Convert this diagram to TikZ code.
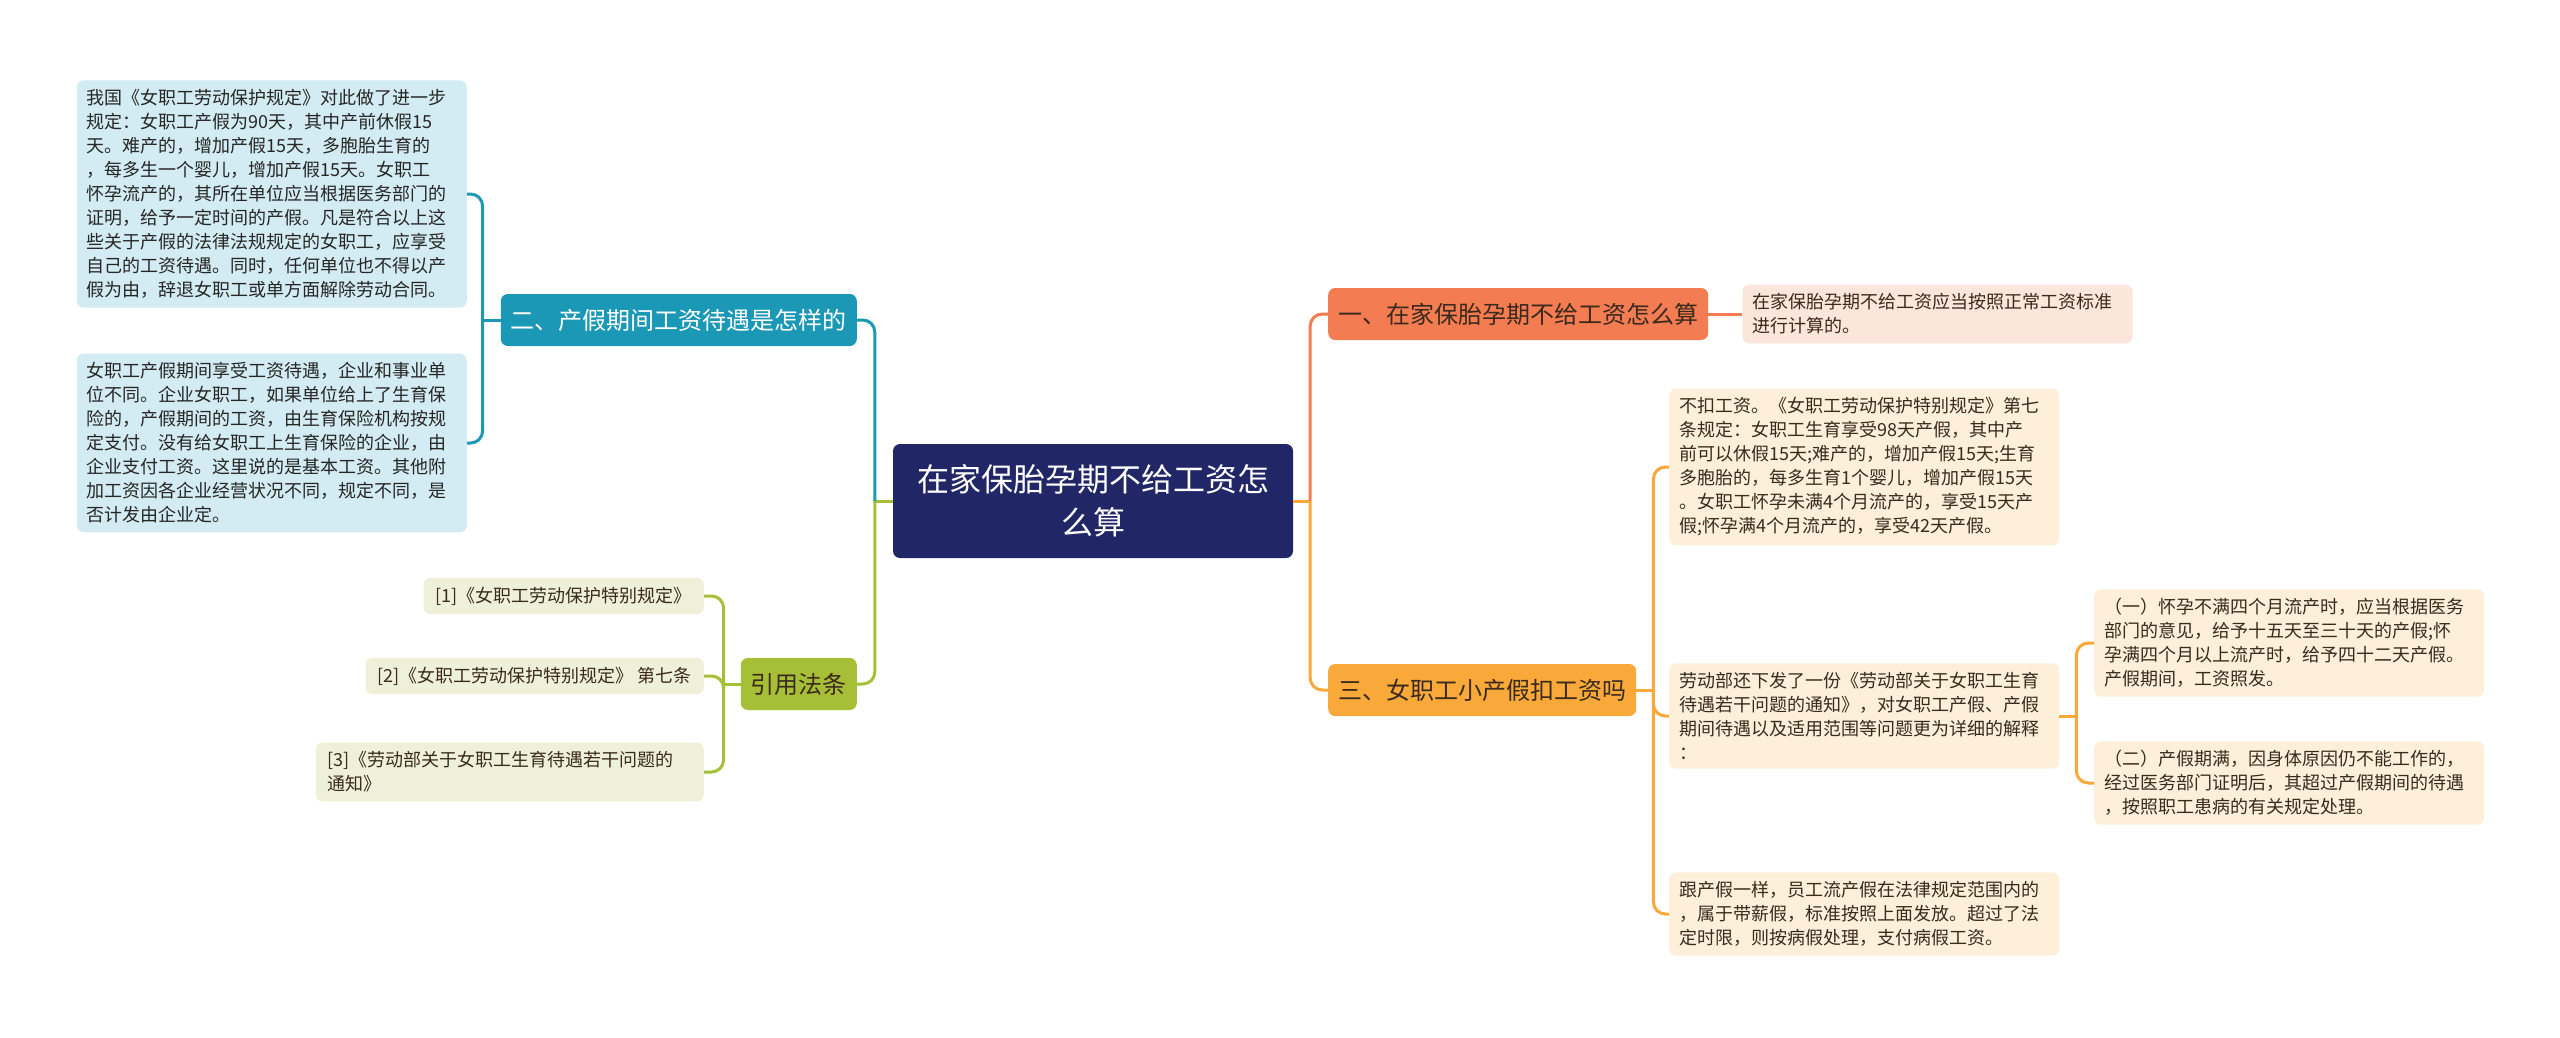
\documentclass[tikz,border=0pt]{standalone}
\usepackage{fontspec}
\setmainfont{Noto Sans CJK SC}
\usepackage{tikz}
\usetikzlibrary{positioning,calc}

\definecolor{rootblue}{HTML}{212766}
\definecolor{coralbr}{HTML}{F47C53}
\definecolor{coralleaf}{HTML}{FCE5DB}
\definecolor{amberbr}{HTML}{F8A93A}
\definecolor{amberleaf}{HTML}{FDEFDA}
\definecolor{tealbr}{HTML}{1B98B5}
\definecolor{tealleaf}{HTML}{D3EBF2}
\definecolor{olivebr}{HTML}{A7BF36}
\definecolor{oliveleaf}{HTML}{EEF1D7}
\definecolor{darktext}{HTML}{3A2A1C}

\begin{document}
\begin{tikzpicture}[x=1pt,y=-1pt,
root/.style={fill=rootblue,text=white,rounded corners=7pt,align=center,font=\fontsize{32}{43}\selectfont,minimum width=400pt,minimum height=114pt},
branch/.style={rounded corners=7pt,font=\fontsize{24}{30}\selectfont,inner xsep=10pt,minimum height=52pt,text=darktext},
leaf/.style={rounded corners=7pt,font=\fontsize{18}{24}\selectfont,inner xsep=10pt,inner ysep=9pt,align=left,text=darktext},
wideleaf/.style={leaf,text width=370pt},
refleaf/.style={leaf,fill=oliveleaf,inner xsep=12pt,anchor=east},
conn/.style={line width=3pt,rounded corners=12pt}]
\path[fill=white,use as bounding box] (0,0) rectangle (2560,1038);

\node[root] (root) at (1093,501) {在家保胎孕期不给工资怎\\么算};

% right side
\node[branch,fill=coralbr,anchor=west] (b1) at (1328,314) {一、在家保胎孕期不给工资怎么算};
\node[wideleaf,fill=coralleaf,right=34pt of b1] (b1l) {在家保胎孕期不给工资应当按照正常工资标准\\进行计算的。};
\node[branch,fill=amberbr,anchor=west] (b3) at (1328,690) {三、女职工小产假扣工资吗};
\node[wideleaf,fill=amberleaf,anchor=west] (b3a) at (1669,467) {不扣工资。《女职工劳动保护特别规定》第七\\条规定：女职工生育享受98天产假，其中产\\前可以休假15天;难产的，增加产假15天;生育\\多胞胎的，每多生育1个婴儿，增加产假15天\\。女职工怀孕未满4个月流产的，享受15天产\\假;怀孕满4个月流产的，享受42天产假。};
\node[wideleaf,fill=amberleaf,anchor=west] (b3b) at (1669,716) {劳动部还下发了一份《劳动部关于女职工生育\\待遇若干问题的通知》，对女职工产假、产假\\期间待遇以及适用范围等问题更为详细的解释\\：};
\node[wideleaf,fill=amberleaf,anchor=west] (b3c) at (1669,914) {跟产假一样，员工流产假在法律规定范围内的\\，属于带薪假，标准按照上面发放。超过了法\\定时限，则按病假处理，支付病假工资。};
\node[wideleaf,fill=amberleaf,anchor=west] (b3b1) at (2094,643) {（一）怀孕不满四个月流产时，应当根据医务\\部门的意见，给予十五天至三十天的产假;怀\\孕满四个月以上流产时，给予四十二天产假。\\产假期间，工资照发。};
\node[wideleaf,fill=amberleaf,anchor=west] (b3b2) at (2094,783) {（二）产假期满，因身体原因仍不能工作的，\\经过医务部门证明后，其超过产假期间的待遇\\，按照职工患病的有关规定处理。};

% left side
\node[branch,fill=tealbr,text=white,anchor=east] (b2) at (857,320) {二、产假期间工资待遇是怎样的};
\node[wideleaf,fill=tealleaf,text=black!85,anchor=east] (b2a) at (467,194) {我国《女职工劳动保护规定》对此做了进一步\\规定：女职工产假为90天，其中产前休假15\\天。难产的，增加产假15天，多胞胎生育的\\，每多生一个婴儿，增加产假15天。女职工\\怀孕流产的，其所在单位应当根据医务部门的\\证明，给予一定时间的产假。凡是符合以上这\\些关于产假的法律法规规定的女职工，应享受\\自己的工资待遇。同时，任何单位也不得以产\\假为由，辞退女职工或单方面解除劳动合同。};
\node[wideleaf,fill=tealleaf,text=black!85,anchor=east] (b2b) at (467,443) {女职工产假期间享受工资待遇，企业和事业单\\位不同。企业女职工，如果单位给上了生育保\\险的，产假期间的工资，由生育保险机构按规\\定支付。没有给女职工上生育保险的企业，由\\企业支付工资。这里说的是基本工资。其他附\\加工资因各企业经营状况不同，规定不同，是\\否计发由企业定。};
\node[branch,fill=olivebr,anchor=east] (b4) at (857,684) {引用法条};
\node[refleaf] (r1) at (704,596) {[1]《女职工劳动保护特别规定》};
\node[refleaf] (r2) at (704,676) {[2]《女职工劳动保护特别规定》 第七条};
\node[refleaf,text width=364pt] (r3) at (704,772) {[3]《劳动部关于女职工生育待遇若干问题的\\通知》};

% connectors right
\coordinate (rj) at ($(root.east)+(17,0)$);
\draw[conn,amberbr] (root.east) -- (rj);
\draw[conn,coralbr] (rj) |- (b1.west);
\draw[conn,amberbr] (rj) |- (b3.west);
\draw[conn,coralbr] (b1.east) -- (b1l.west);
\coordinate (j3) at ($(b3.east)+(17,0)$);
\draw[conn,amberbr] (b3.east) -- (j3);
\foreach \n in {b3a,b3b,b3c} \draw[conn,amberbr] (j3) |- (\n.west);
\coordinate (j3b) at ($(b3b.east)+(17,0)$);
\draw[conn,amberbr] (b3b.east) -- (j3b);
\foreach \n in {b3b1,b3b2} \draw[conn,amberbr] (j3b) |- (\n.west);

% connectors left
\coordinate (lj) at ($(root.west)+(-18,0)$);
\draw[conn,olivebr] (root.west) -- (lj);
\draw[conn,tealbr] (lj) |- (b2.east);
\draw[conn,olivebr] (lj) |- (b4.east);
\coordinate (j2) at ($(b2.west)+(-18,0)$);
\draw[conn,tealbr] (b2.west) -- (j2);
\foreach \n in {b2a,b2b} \draw[conn,tealbr] (j2) |- (\n.east);
\coordinate (j4) at ($(b4.west)+(-17,0)$);
\draw[conn,olivebr] (b4.west) -- (j4);
\foreach \n in {r1,r2,r3} \draw[conn,olivebr] (j4) |- (\n.east);
\end{tikzpicture}
\end{document}
